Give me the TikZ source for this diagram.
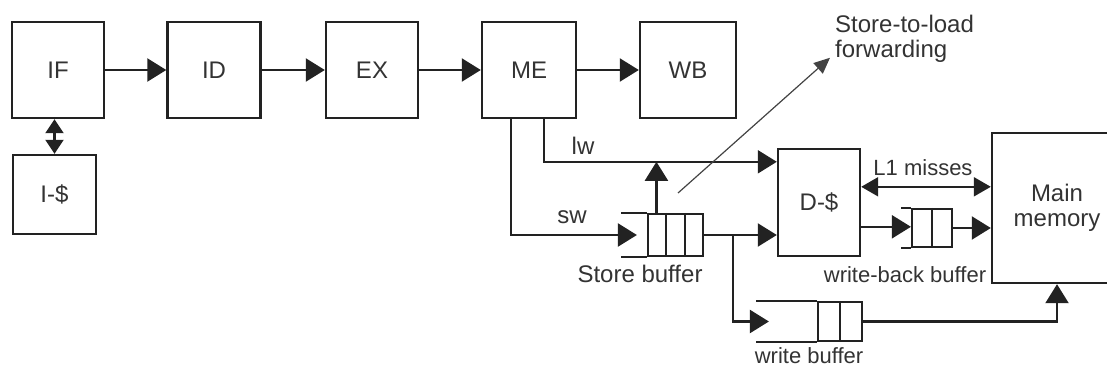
\documentclass[tikz,border=0pt]{standalone}
\usepackage{fontspec}
\setmainfont{Liberation Sans}
\usepackage{xcolor}
\definecolor{inkline}{HTML}{222222}
\definecolor{inktext}{HTML}{333333}
\usepackage{tikz}
\usetikzlibrary{arrows.meta,calc,positioning}
\tikzset{
  >={Triangle[length=19pt,width=23pt]},
  lbl/.style={font=\fontsize{24}{25}\selectfont, text=inktext},
  smalllbl/.style={font=\fontsize{22}{25}\selectfont, text=inktext},
  stage/.style={draw=inkline, line width=2.4pt, inner sep=0pt, lbl},
  wire/.style={inkline, line width=2.2pt},
  thinwire/.style={inkline!85, line width=1.2pt},
}

\begin{document}
\begin{tikzpicture}[x=1pt, y=-1pt,
  qbox/.style={draw=inkline, line width=2.2pt, inner sep=0pt},
  small tip/.style={>={Triangle[length=14pt,width=18pt]}},
]
% a queue: #1 = name, #2 = centre, #3 = width, #4 = height, #5 = open tail, #6 = dividers
\newcommand{\fifo}[6]{%
  \node[qbox, minimum width=#3, minimum height=#4] (#1) at #2 {};
  \draw[wire] (#1.north west) -- ++(-#5,0);
  \draw[wire] (#1.south west) -- ++(-#5,0);
  \foreach \f in {#6}
    \draw[wire] ($(#1.north west)!\f!(#1.north east)$) -- ($(#1.south west)!\f!(#1.south east)$);}

\useasboundingbox (0,0) rectangle (1107,369);
\clip (0,0) rectangle (1107,369);

% ------------------------------------------------------------------ pipeline
\node[stage, minimum width=92pt, minimum height=96pt] (IF) at (58,70) {IF};
\node[stage, minimum width=93pt, minimum height=96pt] (ID) at (214,70) {ID};
\node[stage, minimum width=92pt, minimum height=96pt] (EX) at (372,70) {EX};
\node[stage, minimum width=94pt, minimum height=96pt] (ME) at (529,70) {ME};
\node[stage, minimum width=96pt, minimum height=96pt] (WB) at (688,70) {WB};
\node[stage, minimum width=83pt, minimum height=79pt] (Icache) at (54.5,194.5) {I-\$};

\draw[wire,->] (IF) -- (ID);
\draw[wire,->] (ID) -- (EX);
\draw[wire,->] (EX) -- (ME);
\draw[wire,->] (ME) -- (WB);
\draw[wire,<->,small tip] (IF.south -| Icache.north) -- (Icache.north);

% ------------------------------------------------------------------ memory side
\node[stage, minimum width=82pt, minimum height=107pt] (Dcache) at (819,202.5) {D-\$};
\node[stage, minimum width=130pt, minimum height=150pt, align=center] (Main) at (1057,208) {Main\\memory};

\fifo{sbuf}{(675.5,235)}{55pt}{42pt}{26}{1/3,2/3}
\fifo{wbbuf}{(932,228)}{40pt}{38pt}{10}{0.5}
\fifo{wbuf}{(840,321.5)}{44pt}{39pt}{61}{0.5}

% loads and stores leaving ME
\coordinate (lwend) at ($(Dcache.north west)+(0,14)$);
\draw[wire,->] ($(ME.south)+(15,0)$) |- (lwend);
\draw[wire,->] ($(ME.south)+(-18,0)$) |- ($(sbuf.west)+(-10,0)$);
\node[lbl] (lwlbl) at (583,146) {lw};
\node[lbl] (swlbl) at (572,217) {sw};

% store buffer forwards to the load path
\coordinate (sbtap) at ($(sbuf.north west)!1/6!(sbuf.north east)$);
\draw[wire,->] (sbtap) -- (sbtap |- lwend);
\node[lbl] (sblbl) at (640,274) {Store buffer};

% store buffer drains to D-$ and the write buffer
\draw[wire,->] (sbuf.east) -- (sbuf.east -| Dcache.west);
\coordinate (split) at ($(sbuf.east)+(29,0)$);
\draw[wire,->] (split) |- ($(wbuf.west)+(-48,0)$);
\draw[wire,->] (wbuf.east) -| (Main.south);
\node[smalllbl] (wblbl) at (809,356) {write buffer};

% D-$ and main memory
\coordinate (miss) at ($(Dcache.north east)+(0,39)$);
\draw[wire,<->,>={Triangle[length=17pt,width=19pt]}] (miss) -- (miss -| Main.west);
\node[smalllbl] (misslbl) at (923,168) {L1 misses};
\coordinate (wbtap) at ($(Dcache.north east)+(0,79)$);
\draw[wire,->] (wbtap) -- (wbtap -| wbbuf.west);
\draw[wire,->] (wbbuf.east) -- (wbbuf.east -| Main.west);
\node[smalllbl] (wbblbl) at (905,275) {write-back buffer};

% store-to-load forwarding
\node[lbl, anchor=north west, align=left, inner sep=0pt] (fwdlbl) at (835,15)
  {Store-to-load\\forwarding};
\coordinate (fwdsrc) at (678,193);
\draw[thinwire,->,>={Triangle[length=16pt,width=14pt]}] (fwdsrc) -- ($(fwdlbl.south west)+(-5,-5)$);
\end{tikzpicture}
\end{document}
